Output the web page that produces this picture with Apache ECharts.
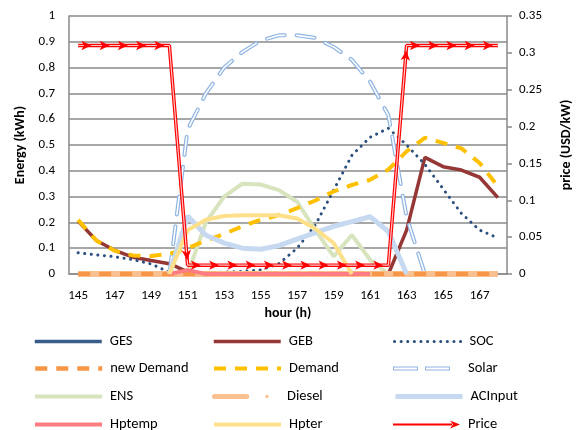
<!DOCTYPE html>
<html><head><meta charset="utf-8">
<script src="https://cdn.jsdelivr.net/npm/echarts@6/dist/echarts.min.js"></script>
<style>html,body{margin:0;padding:0;background:#fff}#c{width:585px;height:430px}</style>
</head><body><div id="c"></div>
<script>
const hours = ['145','146','147','148','149','150','151','152','153','154','155','156','157','158','159','160','161','162','163','164','165','166','167','168'];
const leftTicks = [0,0.1,0.2,0.3,0.4,0.5,0.6,0.7,0.8,0.9,1];
const rightTicks = [0,0.05,0.1,0.15,0.2,0.25,0.3,0.35];
const ges = [0,0,0,0,0,0,0,0,0,0,0,0,0,0,0,0,0,0,0,0,0,0,0,0];
const geb = [0.205,0.13,0.092,0.065,0.052,0.04,0.008,0,0,0,0,0,0,0,0,0,0,0,0.17,0.452,0.416,0.403,0.375,0.296];
const soc = [0.082,0.074,0.067,0.056,0.039,0.007,0.003,0.005,0.007,0.01,0.016,0.04,0.1,0.19,0.325,0.46,0.53,0.565,0.5,0.425,0.33,0.235,0.17,0.14];
const newDemand = [0,0,0,0,0,0,0,0,0,0,0,0,0,0,0,0,0,0,0,0,0,0,0,0];
const demand = [0.21,0.13,0.09,0.072,0.07,0.078,0.1,0.13,0.155,0.185,0.21,0.228,0.255,0.285,0.32,0.345,0.365,0.405,0.475,0.528,0.508,0.487,0.43,0.34];
const solar = [null,null,null,null,null,0,0.56,0.70,0.80,0.86,0.905,0.925,0.925,0.915,0.88,0.83,0.745,0.615,0.22,0,null,null,null,null];
const ens = [null,null,null,null,null,null,0,0.2,0.3,0.35,0.347,0.325,0.28,0.17,0.068,0.151,0.055,0,null,null,null,null,null,null];
const diesel = [0,0,0,0,0,0,0,0,0,0,0,0,0,0,0,0,0,0,0,0,0,0,0,0];
const acInput = [null,null,null,null,null,0,0.225,0.15,0.12,0.1,0.096,0.11,0.135,0.16,0.185,0.203,0.222,0.165,0,null,null,null,null,null];
const hptemp = [null,null,null,null,null,0,0.015,0,0,0,0,0,0,0,0,0,0,null,null,null,null,null,null,null];
const hpter = [null,null,null,null,null,0,0.17,0.21,0.225,0.228,0.228,0.228,0.215,0.175,0.12,0,null,null,null,null,null,null,null,null];
const price = [0.31,0.31,0.31,0.31,0.31,0.31,0.012,0.012,0.012,0.012,0.012,0.012,0.012,0.012,0.012,0.012,0.012,0.012,0.31,0.31,0.31,0.31,0.31,0.31];
const legendColumns = [
  ['GES', 'new Demand', 'ENS', 'Hptemp'],
  ['GEB', 'Demand', 'Diesel', 'Hpter'],
  ['SOC', 'Solar', 'ACInput', 'Price']
];

const FONT = 'Carlito, Lato, "Open Sans", sans-serif';
const GRID = '#8a8a8a';

function line(name, data, color, ls, extra) {
  return Object.assign({
    name: name, type: 'line', data: data, color: color,
    symbol: 'none', showSymbol: false, silent: true,
    itemStyle: {color: color, borderWidth: 0},
    lineStyle: Object.assign({color: color}, ls)
  }, extra || {});
}

const customIcons = {
  Solar: 'path://M0,5 L25,5 L25,9 L0,9 Z M1,6 L1,8 L24,8 L24,6 Z M32,5 L57,5 L57,9 L32,9 Z M33,6 L33,8 L56,8 L56,6 Z M67,7 L67,7 Z',
  Price: 'path://M0,6 L59,6 L59,8 L0,8 Z M57,3 L67,7 L57,11 L60,7 Z',
  Diesel: 'path://M3,4.5 L35,4.5 A2.5,2.5 0 0 1 35,9.5 L3,9.5 A2.5,2.5 0 0 1 3,4.5 Z M55,5.3 A1.7,1.7 0 1 1 55,8.7 A1.7,1.7 0 1 1 55,5.3 Z M67,7 L67,7 Z'
};
const customColors = {Solar: '#8eb4e3', Price: '#ff0000', Diesel: '#fac090'};

const legendLeft = [33, 212, 393];
const legendTop = [334, 361, 389, 417];
const legends = [];
legendColumns.forEach(function (col, c) {
  col.forEach(function (name, r) {
    const custom = customIcons[name];
    legends.push({
      left: legendLeft[c], top: legendTop[r], orient: 'horizontal', padding: 0,
      itemWidth: 67, itemHeight: 14, selectedMode: false,
      data: [custom ? {name: name, icon: custom} : name],
      itemStyle: custom ? {color: customColors[name], borderWidth: 0} : {color: 'rgba(0,0,0,0)', borderWidth: 0, opacity: 0},
      lineStyle: {width: 'inherit'},
      textStyle: {fontSize: 14.5, color: '#000', fontFamily: FONT, padding: [0, 0, 0, 3]}
    });
  });
});

const chart = echarts.init(document.getElementById('c'));
const option = {
  animation: false,
  backgroundColor: '#fff',
  textStyle: {fontFamily: FONT},
  grid: {left: 69, right: 78, top: 16, bottom: 156},
  legend: legends,
  xAxis: {
    type: 'category', data: hours, boundaryGap: true,
    name: 'hour (h)', nameLocation: 'middle', nameGap: 31,
    nameTextStyle: {fontWeight: 'bold', fontSize: 14, color: '#000', fontFamily: FONT},
    axisLine: {lineStyle: {color: GRID, width: 1.5}},
    axisTick: {show: false},
    axisLabel: {interval: 1, margin: 15, fontSize: 13, color: '#000', fontFamily: FONT},
    splitLine: {show: false}
  },
  yAxis: [
    {
      type: 'value', min: leftTicks[0], max: leftTicks[leftTicks.length - 1], interval: 0.1,
      name: 'Energy (kWh)', nameLocation: 'middle', nameGap: 40, nameRotate: 90,
      nameTextStyle: {fontWeight: 'bold', fontSize: 14, color: '#000', fontFamily: FONT},
      axisLine: {show: true, lineStyle: {color: GRID, width: 1.5}},
      axisTick: {show: false},
      axisLabel: {margin: 14, fontSize: 13, color: '#000', fontFamily: FONT},
      splitLine: {show: true, lineStyle: {color: GRID, width: 1.5}}
    },
    {
      type: 'value', position: 'right', min: rightTicks[0], max: rightTicks[rightTicks.length - 1], interval: 0.05,
      name: 'price (USD/kW)', nameLocation: 'middle', nameGap: 52, nameRotate: 90,
      nameTextStyle: {fontWeight: 'bold', fontSize: 14, color: '#000', fontFamily: FONT},
      axisLine: {show: true, lineStyle: {color: GRID, width: 1.5}},
      axisTick: {show: true, inside: false, length: 5, lineStyle: {color: GRID, width: 1.5}},
      axisLabel: {margin: 12, fontSize: 13, color: '#000', fontFamily: FONT},
      splitLine: {show: false}
    }
  ],
  series: [
    line('GES', ges, '#385d8a', {width: 3.5}),
    line('GEB', geb, '#953735', {width: 3.5}),
    line('SOC', soc, '#2b4f7e', {width: 3, type: [0.1, 6.5], cap: 'round'}),
    line('Solar', solar, '#8eb4e3', {width: 4, type: [18, 12], cap: 'round'}),
    line('SolarInner', solar, '#ffffff', {width: 1.6, type: [18, 12], cap: 'round'}),
    line('ENS', ens, '#d7e4bd', {width: 4}),
    line('Diesel', diesel, '#fac090', {width: 6}),
    line('new Demand', newDemand, '#f79646', {width: 4.5, type: [12, 9]}),
    line('Demand', demand, '#ffc000', {width: 4, type: [12, 9]}),
    line('ACInput', acInput, '#c6d9f1', {width: 5}),
    line('Hptemp', hptemp, '#ff7c80', {width: 4}),
    line('Hpter', hpter, '#ffe08a', {width: 4}),
    line('Price', price, '#ff0000', {width: 3.5}, {yAxisIndex: 1}),
    line('PriceInner', price, '#ffc4c4', {width: 1.2}, {yAxisIndex: 1}),
    {
      id: 'priceArrows', name: 'PriceArrows', type: 'line', yAxisIndex: 1, data: price,
      symbol: 'arrow', symbolSize: [7, 10], showSymbol: true, silent: true,
      itemStyle: {color: '#ff0000', borderWidth: 0},
      lineStyle: {width: 0, opacity: 0}
    }
  ]
};
chart.setOption(option);

function arrowData() {
  return price.map(function (v, i) {
    if (i === 0) return {value: v, symbol: 'none'};
    const p0 = chart.convertToPixel({xAxisIndex: 0, yAxisIndex: 1}, [hours[i - 1], price[i - 1]]);
    const p1 = chart.convertToPixel({xAxisIndex: 0, yAxisIndex: 1}, [hours[i], v]);
    const dx = p1[0] - p0[0], dy = p1[1] - p0[1];
    const len = Math.hypot(dx, dy) || 1;
    const ang = Math.atan2(dy, dx) * 180 / Math.PI;
    return {value: v, symbolRotate: -90 - ang, symbolOffset: [-dx / len * 5, -dy / len * 5]};
  });
}
chart.setOption({series: [{id: 'priceArrows', data: arrowData()}]});
</script>
</body></html>
